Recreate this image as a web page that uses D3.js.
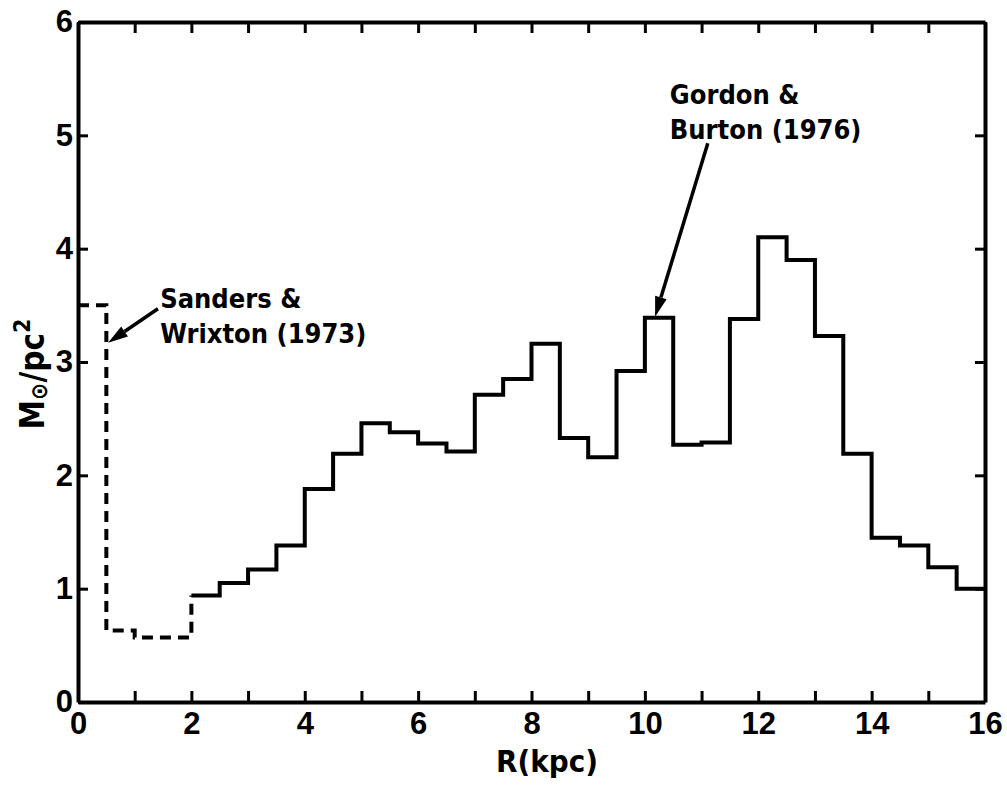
<!DOCTYPE html>
<meta charset="utf-8">
<style>
body { margin: 0; background: #fff; }
svg { font-family: "DejaVu Sans Condensed", "DejaVu Sans", sans-serif; }
.axis path, .axis line { stroke: #000; stroke-width: 3px; }
.axis text { font-size: 31px; font-weight: bold; fill: #000; }
.step { fill: none; stroke: #000; stroke-width: 4px; stroke-linejoin: miter; }
.dashed { stroke-dasharray: 11 7; }
.note { font-size: 27px; font-weight: bold; fill: #000; }
</style>
<body>
<script src="https://d3js.org/d3.v7.min.js"></script>
<script>

// bin edges (kpc) and surface densities
var binEdges = [2, 2.5, 3, 3.5, 4, 4.5, 5, 5.5, 6, 6.5, 7, 7.5, 8, 8.5, 9, 9.5,
                10, 10.5, 11, 11.5, 12, 12.5, 13, 13.5, 14, 14.5, 15, 15.5, 16];
var gordonValues = [0.94, 1.05, 1.17, 1.38, 1.88, 2.19, 2.46, 2.38, 2.28, 2.21,
                    2.71, 2.85, 3.16, 2.33, 2.16, 2.92, 3.39, 2.27, 2.29, 3.38,
                    4.10, 3.90, 3.23, 2.19, 1.45, 1.38, 1.19, 1.00];

// Sanders & Wrixton (1973), dashed
var sandersEdges = [0, 0.5, 1, 2];
var sandersValues = [3.5, 0.63, 0.57, 0.94];

var xTicks = d3.range(0, 17);
var yTicks = d3.range(0, 7);

// annotations: text anchor and arrow (from -> tip), in data units
var notes = [
  {lines: ["Sanders &", "Wrixton (1973)"], x: 1.45, y: 3.48, dy: 0.31,
   from: [1.41, 3.47], to: [0.53, 3.17]},
  {lines: ["Gordon &", "Burton (1976)"], x: 10.44, y: 5.28, dy: 0.31,
   from: [11.11, 4.93], to: [10.18, 3.40]}
];

var margin = {top: 22, right: 22, bottom: 85, left: 78},
    width = 1007 - margin.left - margin.right,
    height = 787 - margin.top - margin.bottom;

var x = d3.scaleLinear().domain([0, 16]).range([0, width]);
var y = d3.scaleLinear().domain([0, 6]).range([height, 0]);

var svg = d3.select("body").append("svg")
    .attr("width", 1007)
    .attr("height", 787)
  .append("g")
    .attr("transform", "translate(" + margin.left + "," + margin.top + ")");

// axes, ticks pointing inward
svg.append("g")
    .attr("class", "axis")
    .attr("transform", "translate(0," + height + ")")
    .call(d3.axisBottom(x).tickValues(xTicks).tickSizeInner(-11).tickSizeOuter(0)
      .tickPadding(10)
      .tickFormat(function(d) { return d % 2 === 0 ? d : ""; }));

svg.append("g")
    .attr("class", "axis")
    .call(d3.axisTop(x).tickValues(xTicks).tickSizeInner(-11).tickSizeOuter(0)
      .tickFormat(""));

svg.append("g")
    .attr("class", "axis")
    .call(d3.axisLeft(y).tickValues(yTicks).tickSizeInner(-10).tickSizeOuter(0)
      .tickPadding(5).tickFormat(d3.format("d")));

svg.append("g")
    .attr("class", "axis")
    .attr("transform", "translate(" + width + ",0)")
    .call(d3.axisRight(y).tickValues(yTicks).tickSizeInner(-10).tickSizeOuter(0)
      .tickFormat(""));

svg.selectAll(".axis path.domain").style("stroke-width", "4px");

// step histograms
var step = d3.line()
    .x(function(d) { return x(d[0]); })
    .y(function(d) { return y(d[1]); })
    .curve(d3.curveStepAfter);

var gordonPts = binEdges.map(function(e, i) {
  return [e, i < gordonValues.length ? gordonValues[i] : gordonValues[gordonValues.length - 1]];
});
svg.append("path")
    .attr("class", "step")
    .attr("d", step(gordonPts));

var sandersPts = sandersEdges.map(function(e, i) { return [e, sandersValues[i]]; });
svg.append("path")
    .attr("class", "step dashed")
    .attr("d", step(sandersPts));

// annotations
notes.forEach(function(n) {
  var t = svg.append("text").attr("class", "note");
  n.lines.forEach(function(s, i) {
    t.append("tspan")
        .attr("x", x(n.x))
        .attr("y", y(n.y - i * n.dy))
        .text(s);
  });
  var x0 = x(n.from[0]), y0 = y(n.from[1]),
      x1 = x(n.to[0]), y1 = y(n.to[1]);
  var a = Math.atan2(y1 - y0, x1 - x0), len = 20, half = 6;
  var bx = x1 - len * Math.cos(a), by = y1 - len * Math.sin(a);
  svg.append("line")
      .attr("x1", x0).attr("y1", y0)
      .attr("x2", bx).attr("y2", by)
      .attr("stroke", "#000").attr("stroke-width", 3.5);
  svg.append("path")
      .attr("d", "M" + x1 + "," + y1 +
                 "L" + (bx + half * Math.sin(a)) + "," + (by - half * Math.cos(a)) +
                 "L" + (bx - half * Math.sin(a)) + "," + (by + half * Math.cos(a)) + "Z")
      .attr("fill", "#000");
});

// axis titles
svg.append("text")
    .attr("x", 469)
    .attr("y", height + 70)
    .attr("text-anchor", "middle")
    .attr("font-size", "31px")
    .attr("font-weight", "bold")
    .text("R(kpc)");

var ylab = svg.append("text")
    .attr("transform", "translate(-34,352) rotate(-90)")
    .attr("text-anchor", "middle")
    .attr("font-size", "33px")
    .attr("font-weight", "bold");
ylab.append("tspan").text("M");
ylab.append("tspan").attr("font-size", "23px").attr("dy", "3").text("\u2299");
ylab.append("tspan").attr("dy", "-3").text("/pc");
ylab.append("tspan").attr("font-size", "23px").attr("dy", "-14").text("2");

</script>
</body>
